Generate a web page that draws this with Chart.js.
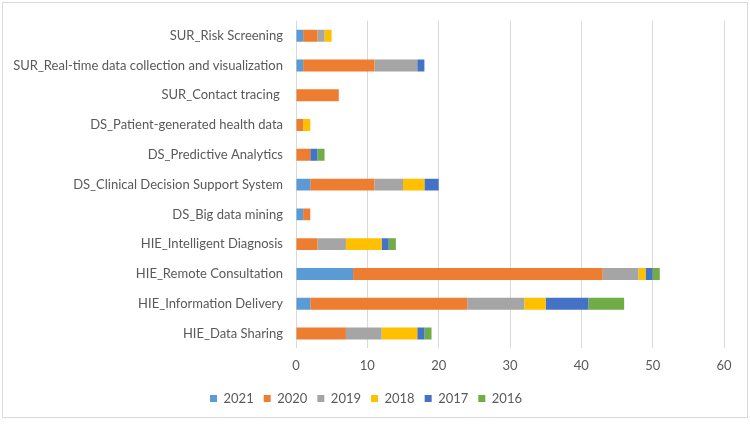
<!DOCTYPE html>
<html>
<head>
<meta charset="utf-8">
<script src="https://cdn.jsdelivr.net/npm/chart.js@4.4.1/dist/chart.umd.min.js"></script>
<style>
  html, body { margin: 0; padding: 0; background: #fff; }
  #wrap { width: 750px; height: 424px; }
</style>
</head>
<body>
<div id="wrap"><canvas id="chart" width="750" height="424"></canvas></div>
<script>
// categories, top to bottom
const categories = [
  'SUR_Risk Screening',
  'SUR_Real-time data collection and visualization',
  'SUR_Contact tracing ',
  'DS_Patient-generated health data',
  'DS_Predictive Analytics',
  'DS_Clinical Decision Support System',
  'DS_Big data mining',
  'HIE_Intelligent Diagnosis',
  'HIE_Remote Consultation',
  'HIE_Information Delivery',
  'HIE_Data Sharing'
];

const years = ['2021', '2020', '2019', '2018', '2017', '2016'];

const y2021 = [1, 1, 0, 0, 0, 2, 1, 0, 8, 2, 0];
const y2020 = [2, 10, 6, 1, 2, 9, 1, 3, 35, 22, 7];
const y2019 = [1, 6, 0, 0, 0, 4, 0, 4, 5, 8, 5];
const y2018 = [1, 0, 0, 1, 0, 3, 0, 5, 1, 3, 5];
const y2017 = [0, 1, 0, 0, 1, 2, 0, 1, 1, 6, 1];
const y2016 = [0, 0, 0, 0, 1, 0, 0, 1, 1, 5, 1];

const xTicks = [0, 10, 20, 30, 40, 50, 60];

const colors = ['#5B9BD5', '#ED7D31', '#A5A5A5', '#FFC000', '#4472C4', '#70AD47'];
const series = [y2021, y2020, y2019, y2018, y2017, y2016];

const textColor = '#595959';
const font = { family: 'Lato, "Open Sans", sans-serif', size: 13 };

// outer frame like the office chart area
const framePlugin = {
  id: 'frame',
  beforeDraw(chart) {
    const ctx = chart.ctx;
    ctx.save();
    ctx.strokeStyle = '#d9d9d9';
    ctx.lineWidth = 1;
    ctx.strokeRect(2.5, 2.5, 745, 415);
    ctx.restore();
  }
};

new Chart(document.getElementById('chart'), {
  type: 'bar',
  data: {
    labels: categories,
    datasets: years.map((y, i) => ({
      label: y,
      data: series[i],
      backgroundColor: colors[i],
      borderWidth: 0,
      barPercentage: 0.5,
      categoryPercentage: 0.8
    }))
  },
  options: {
    indexAxis: 'y',
    responsive: false,
    animation: false,
    layout: { padding: { top: 14, right: 26, left: 8, bottom: 9 } },
    scales: {
      x: {
        stacked: true,
        min: 0,
        max: 60,
        afterBuildTicks(scale) {
          scale.ticks = xTicks.map(v => ({ value: v }));
        },
        afterFit(scale) {
          scale.height -= 2;
        },
        grid: { color: '#d9d9d9', drawTicks: false },
        border: { display: false },
        ticks: { color: textColor, font: font, padding: 10 }
      },
      y: {
        stacked: true,
        grid: { display: false, drawTicks: false },
        border: { display: false },
        ticks: { color: textColor, font: font, padding: 13 },
        afterFit(scale) {
          scale.width = 288;
        }
      }
    },
    plugins: {
      legend: {
        position: 'bottom',
        labels: {
          color: textColor,
          font: font,
          boxWidth: 7,
          boxHeight: 7,
          padding: 10
        }
      },
      tooltip: { enabled: false }
    }
  },
  plugins: [framePlugin]
});
</script>
</body>
</html>
